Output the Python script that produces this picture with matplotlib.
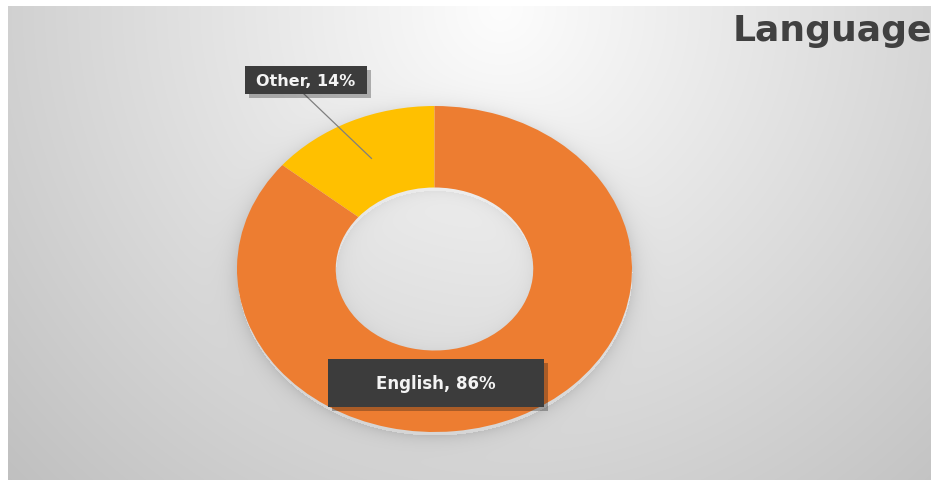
import numpy as np
import matplotlib.pyplot as plt
import matplotlib.patheffects as pe
from matplotlib.patches import Rectangle

# language share
languages = ["Other", "English"]
shares = [14, 86]
colors = ["#FFC000", "#ED7D31"]
title = "Language"

W, H = 931, 481
fig = plt.figure(figsize=(W / 100, H / 100), dpi=100, facecolor="white")

# donut placement in pixels (from top-left), stretched horizontally
cx, cy = 434.5, 270.0
rx, ry = 197.5, 163.0

# grey panel with a soft radial light, plus the donut's drop shadow
bg = fig.add_axes([8 / W, 0, (W - 8) / W, (H - 7) / H])
yy, xx = np.mgrid[7:H, 8:W].astype(float)
d = np.sqrt((xx - 500) ** 2 + (yy - 10) ** 2)
shade = 253 - 0.09 * d
r = np.sqrt(((xx - cx) / rx) ** 2 + ((yy - cy - 3) / ry) ** 2)
outer = np.clip(r - 1, 0, None) * rx
shade -= 24 * np.exp(-outer / 9) * (r > 1)
inner = np.clip(0.5 - r, 0, None) * rx
shade -= 12 * np.exp(-inner / 8) * (r < 0.5)
shade = np.clip(shade, 0, 255) / 255
bg.imshow(np.dstack([shade] * 3), aspect="auto", interpolation="bilinear")
bg.axis("off")

ax = fig.add_axes([(cx - rx) / W, (H - cy - ry) / H, 2 * rx / W, 2 * ry / H])
ax.patch.set_alpha(0)
wedges, _ = ax.pie(shares, colors=colors, startangle=90, counterclock=True,
                   radius=1, wedgeprops=dict(width=0.5, linewidth=0))
ax.set_aspect("auto")
ax.set_xlim(-1, 1)
ax.set_ylim(-1, 1)
ax.axis("off")

# overlay in pixel coordinates for labels
ov = fig.add_axes([0, 0, 1, 1])
ov.set_xlim(0, W)
ov.set_ylim(H, 0)
ov.axis("off")
ov.patch.set_alpha(0)

shadow = [pe.SimplePatchShadow(offset=(3, -3), alpha=0.3), pe.Normal()]


def label_box(x0, y0, w, h, text, size):
    box = Rectangle((x0, y0), w, h, facecolor="#3c3c3c", edgecolor="none", zorder=3)
    box.set_path_effects(shadow)
    ov.add_patch(box)
    ov.text(x0 + w / 2, y0 + h / 2, text, color="#f4f4f4", fontsize=size,
            fontweight="bold", family="DejaVu Sans", ha="center", va="center",
            zorder=4)


# leader line from the "Other" label to the middle of its wedge
mid = np.deg2rad(90 + shares[0] / sum(shares) * 360 / 2)
lx = cx + 0.75 * rx * np.cos(mid)
ly = cy - 0.75 * ry * np.sin(mid)
ov.plot([304, lx], [95, ly], color="#7f7f7f", linewidth=0.9, zorder=2)

label_box(245, 67, 122, 28, f"{languages[0]}, {shares[0]}%", 11.5)
label_box(328, 360, 216, 48, f"{languages[1]}, {shares[1]}%", 12)

ov.text(733, 31, title, fontsize=26, fontweight="bold", family="DejaVu Sans",
        color="#404040", ha="left", va="center")

fig.savefig("out.png", dpi=100, facecolor="white")
